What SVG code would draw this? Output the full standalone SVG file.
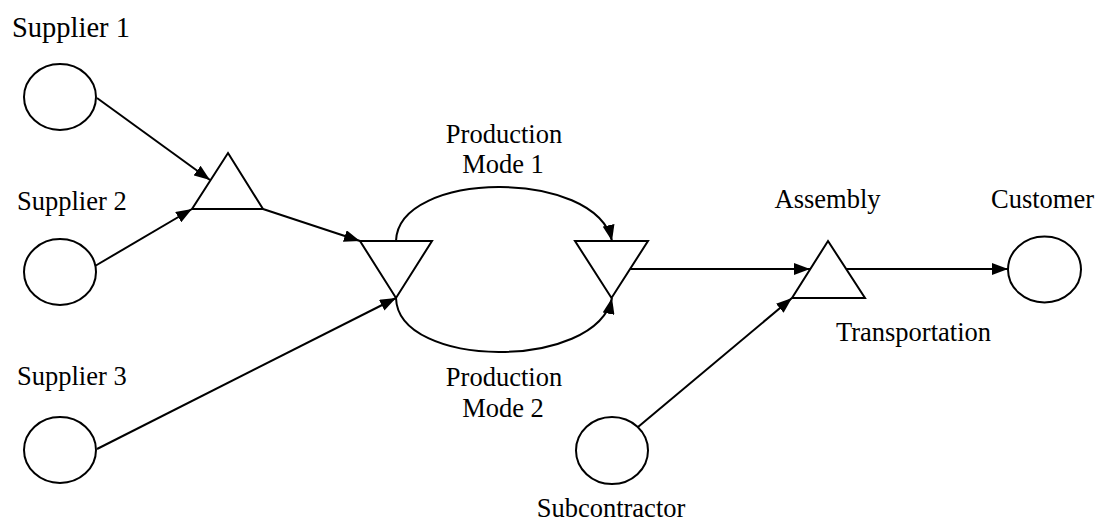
<svg xmlns="http://www.w3.org/2000/svg" width="1097" height="521" viewBox="0 0 1097 521">
  <style>
    .shape { fill: #ffffff; stroke: #000000; stroke-width: 2; }
    .edge { fill: none; stroke: #000000; stroke-width: 2; marker-end: url(#arrow); }
    .label { font-family: "Liberation Serif", "Times New Roman", serif; font-size: 26.5px; fill: #000000; }
    .mid { text-anchor: middle; }
  </style>
  <defs>
    <marker id="arrow" markerUnits="userSpaceOnUse" markerWidth="16" markerHeight="12" refX="16" refY="6" orient="auto">
      <path d="M0,0 L16,6 L0,12 Z" fill="#000000"/>
    </marker>
  </defs>

  <rect width="1097" height="521" fill="#ffffff"/>

  <!-- connectors -->
  <g id="connectors">
    <line class="edge" x1="97" y1="98" x2="210" y2="180"/>
    <line class="edge" x1="95" y1="266" x2="192" y2="209"/>
    <line class="edge" x1="263" y1="209" x2="360" y2="241"/>
    <line class="edge" x1="97" y1="449" x2="396" y2="298"/>
    <path class="edge" d="M396,241 C398,170 596,168 612,241"/>
    <path class="edge" d="M396,298 C398,369 596,371 612,298"/>
    <line class="edge" x1="630" y1="269" x2="810" y2="269"/>
    <line class="edge" x1="638" y1="427" x2="792" y2="298"/>
    <line class="edge" x1="846" y1="269" x2="1008" y2="269"/>
  </g>

  <!-- suppliers -->
  <g id="supplier1">
    <ellipse class="shape" cx="60" cy="97" rx="36" ry="33"/>
    <text class="label" x="12" y="37" style="font-size:28.5px">Supplier 1</text>
  </g>
  <g id="supplier2">
    <ellipse class="shape" cx="60" cy="272" rx="36" ry="33"/>
    <text class="label" x="17" y="210">Supplier 2</text>
  </g>
  <g id="supplier3">
    <ellipse class="shape" cx="60" cy="450" rx="36" ry="33"/>
    <text class="label" x="17" y="385">Supplier 3</text>
  </g>

  <!-- consolidation point -->
  <g id="merge">
    <polygon class="shape" points="228,153 263,209 192,209"/>
  </g>

  <!-- production split and join -->
  <g id="split">
    <polygon class="shape" points="360,241 432,241 396,298"/>
  </g>
  <g id="join">
    <polygon class="shape" points="575,241 648,241 611.5,298"/>
  </g>
  <g id="mode1">
    <text class="label mid" x="504" y="143">Production</text>
    <text class="label mid" x="503" y="173">Mode 1</text>
  </g>
  <g id="mode2">
    <text class="label mid" x="504" y="386">Production</text>
    <text class="label mid" x="503" y="417">Mode 2</text>
  </g>

  <!-- assembly -->
  <g id="assembly">
    <polygon class="shape" points="828,241 865,298 792,298"/>
    <text class="label mid" x="827.5" y="208">Assembly</text>
  </g>
  <g id="transport">
    <text class="label mid" x="913.5" y="341">Transportation</text>
  </g>

  <!-- subcontractor -->
  <g id="subcontractor">
    <ellipse class="shape" cx="612" cy="450.5" rx="36" ry="33.5"/>
    <text class="label mid" x="611" y="517">Subcontractor</text>
  </g>

  <!-- customer -->
  <g id="customer">
    <ellipse class="shape" cx="1044.5" cy="269.5" rx="36.5" ry="33"/>
    <text class="label mid" x="1042.5" y="208">Customer</text>
  </g>
</svg>
